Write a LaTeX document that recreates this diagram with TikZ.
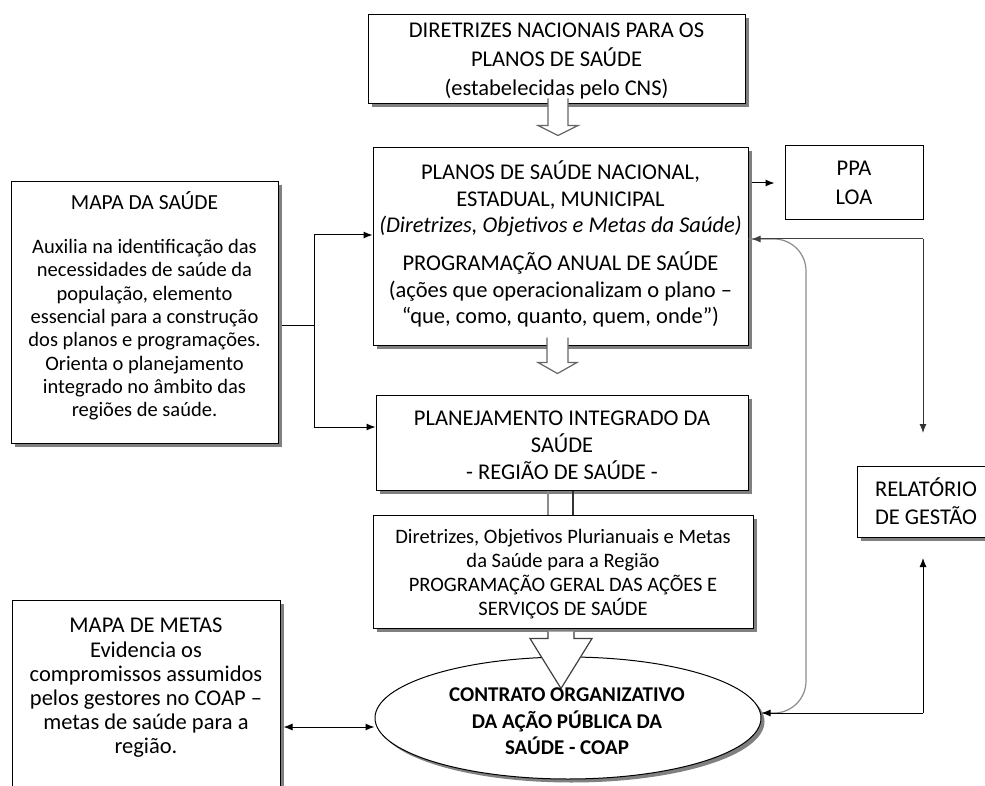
\documentclass[tikz,border=0pt]{standalone}
\usepackage{fontspec}
\setmainfont{Carlito}
\usetikzlibrary{shapes.geometric,shadows,arrows.meta,calc}
\newcommand\harrow[6]{% #1 start coord, #2 shaft length, #3 head length, #4 shaft half width, #5 head half width, #6 style
  \draw[#6] (#1) ++(-#4,0) -- ++(0,#2) -- ++({#4-#5},0) -- ++(#5,#3) -- ++(#5,-#3) -- ++({#4-#5},0) -- ++(0,-#2);}
\begin{document}
\begin{tikzpicture}[x=1pt,y=-1pt,
  box/.style={draw, line width=1pt, fill=white, inner sep=0pt,
    drop shadow={shadow xshift=3.5pt, shadow yshift=-3.5pt, opacity=1, fill=black!50}},
  plainbox/.style={draw, line width=1pt, fill=white, inner sep=0pt},
  txt/.style={align=center, inner sep=0pt, text=black, font={\fontsize{22.5}{26.5}\selectfont}},
  conn/.style={line width=1pt, -{Latex[length=9pt,width=7pt]}},
  hollow/.style={draw=black!60, line width=1.2pt, fill=white, line join=miter},
]
\useasboundingbox (0,0) rectangle (985,786);
\clip (0,0) rectangle (985,786);

% boxes
\node[box, minimum width=377pt, minimum height=89pt] (b1) at (556.5,59.5) {};
\node[box, minimum width=375pt, minimum height=197pt] (b2) at (560.5,246.5) {};
\node[box, minimum width=372pt, minimum height=95pt] (b3) at (562,442.5) {};
\node[box, minimum width=380pt, minimum height=113pt] (b4) at (563,571.5) {};
\node[box, minimum width=267pt, minimum height=261pt] (ms) at (144.5,312.5) {};
\node[box, minimum width=268pt, minimum height=200pt] (mm) at (146,700) {};
\node[plainbox, minimum width=138pt, minimum height=74pt] (ppa) at (854,183) {};
\node[box, minimum width=138pt, minimum height=71pt] (rel) at (926,501.5) {};
\node[box, ellipse, minimum width=386pt, minimum height=122pt] (coap) at (568,718) {};

% hollow block arrows
\path ([yshift=6pt]b1.south) ++(1.5,0) coordinate (a1);
\harrow{a1}{27}{10}{10}{20}{hollow}
\path ([yshift=8pt]b2.south) ++(-3,0) coordinate (a2);
\harrow{a2}{25}{11}{10.5}{19.5}{hollow}
\draw[black!45, line width=1.2pt] ([xshift=-14pt]b3.south) -- ([xshift=-14pt]b3.south |- b4.north);
\draw[black!80, line width=1.2pt] ([xshift=11pt]b3.south) -- ([xshift=11pt]b3.south |- b4.north);
\path ([yshift=-3pt]b4.south) ++(-2,0) coordinate (a3);
\harrow{a3}{7}{50}{13}{31}{hollow,draw=black!75}

% gray curved return line
\coordinate (r1) at (923,239);
\coordinate (r2) at (923,433);
\coordinate (r3) at (923,713);
\coordinate (r4) at (923,558);
\draw[black!45, line width=1.2pt, rounded corners=32pt] (b2.east |- r1) -- (806,239) -- (806,713) -- (coap.east |- r3);

% connectors
\draw[conn] (b2.east |- ppa) ++(3,0) -- ([xshift=-10pt]ppa.west);
\coordinate (j1) at (314,325);
\draw[line width=1pt] ([xshift=3pt,yshift=-12.5pt]ms.east) -- (j1);
\draw[conn] (j1) |- ([yshift=11.5pt]b2.west);
\draw[conn] (j1) |- ([yshift=15.5pt]b3.west);
\draw[conn, black!75] (r1) -- ([xshift=3pt]b2.east |- r1);
\draw[conn, black!80] (r1) -- (r2);
\draw[conn] (r3) -- (r4);
\draw[conn] (r3) -- (coap.east |- r3);
\coordinate (m1) at ([xshift=3pt,yshift=-27pt]mm.east);
\draw[line width=1pt, {Latex[length=9pt,width=7pt]}-{Latex[length=9pt,width=7pt]}] (m1) -- (m1 -| coap.west);

% texts
\node[txt, font={\fontsize{22.5}{29}\selectfont}] (t1) at (556.5,61)
  {DIRETRIZES NACIONAIS PARA OS\\PLANOS DE SAÚDE\\(estabelecidas pelo CNS)};
\node[txt] (t2) at (560.5,244)
  {PLANOS DE SAÚDE NACIONAL,\\ESTADUAL, MUNICIPAL\\\textit{(Diretrizes, Objetivos e Metas da Saúde)}\\[11.5pt]
   PROGRAMAÇÃO ANUAL DE SAÚDE\\(ações que operacionalizam o plano –\\“que, como, quanto, quem, onde”)};
\node[txt, font={\fontsize{22.5}{27}\selectfont}] (t3) at (562,445)
  {PLANEJAMENTO INTEGRADO DA\\SAÚDE\\- REGIÃO DE SAÚDE -};
\node[txt, font={\fontsize{20.5}{24}\selectfont}] (t4) at (563,574)
  {Diretrizes, Objetivos Plurianuais e Metas\\da Saúde para a Região\\PROGRAMAÇÃO GERAL DAS AÇÕES E\\SERVIÇOS DE SAÚDE};
\node[txt, font={\fontsize{20.5}{23.3}\selectfont}] (tms) at (144.5,306)
  {{\fontsize{21.5}{23.3}\selectfont MAPA DA SAÚDE}\\[20.7pt]
   Auxilia na identificação das\\necessidades de saúde da\\população, elemento\\essencial para a construção\\dos planos e programações.\\Orienta o planejamento\\integrado no âmbito das\\regiões de saúde.};
\node[txt, font={\fontsize{22.5}{24.2}\selectfont}] (tmm) at (146,688)
  {MAPA DE METAS\\Evidencia os\\compromissos assumidos\\pelos gestores no COAP –\\metas de saúde para a\\região.};
\node[txt, font={\fontsize{22.5}{29}\selectfont}] (tppa) at (854,182.5) {PPA\\LOA};
\node[txt, font={\fontsize{22.5}{28}\selectfont}] (trel) at (926,501) {RELATÓRIO\\DE GESTÃO};
\node[txt, font={\fontsize{21}{26.5}\selectfont\bfseries}] (tcoap) at (567,721.5)
  {CONTRATO ORGANIZATIVO\\DA AÇÃO PÚBLICA DA\\SAÚDE - COAP};
\end{tikzpicture}
\end{document}
